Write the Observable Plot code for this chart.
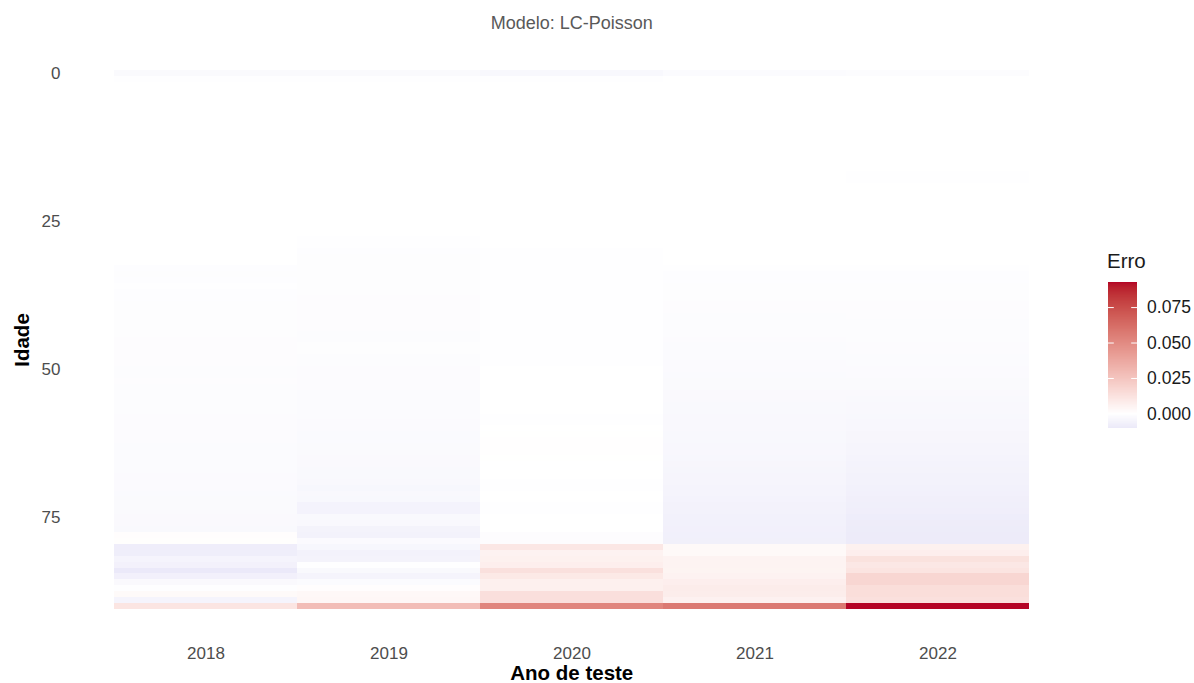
<!DOCTYPE html>
<html>
<head>
<meta charset="utf-8">
<script src="https://cdn.jsdelivr.net/npm/d3@7"></script>
<script src="https://cdn.jsdelivr.net/npm/@observablehq/plot@0.6"></script>
<style>
  html, body { margin: 0; padding: 0; background: #ffffff; }
  #wrap { position: relative; width: 1194px; height: 683px; font-family: "Liberation Sans", Arial, Helvetica, sans-serif; }
  #wrap svg { position: absolute; }
  #legend-title { position: absolute; left: 1107px; top: 251px; font-size: 20.5px; color: #1a1a1a; line-height: 1; }
</style>
</head>
<body>
<div id="wrap"><div id="legend-title">Erro</div></div>
<script>
// Anos de teste (colunas) e idades (linhas)
const years = [2018, 2019, 2020, 2021, 2022];
const ages = d3.range(0, 91);

// Erro do modelo LC-Poisson por idade (0 a 90), um vetor por ano de teste
const err2018 = [
  -0.0025, -0.0007, -0.0001, -0.0001, -0.0001, -0.0001, 0.0000, -0.0001, -0.0001, -0.0001,
  -0.0001, -0.0001, -0.0001, -0.0001, -0.0001, -0.0001, -0.0001, -0.0001, -0.0001, -0.0001,
  -0.0001, -0.0001, -0.0001, -0.0001, -0.0001, -0.0001, -0.0001, -0.0001, -0.0001, -0.0001,
  -0.0001, -0.0002, -0.0002, -0.0008, -0.0009, -0.0008, -0.0007, -0.0008, -0.0008, -0.0009,
  -0.0009, -0.0010, -0.0010, -0.0011, -0.0011, -0.0012, -0.0012, -0.0012, -0.0013, -0.0013,
  -0.0014, -0.0014, -0.0012, -0.0015, -0.0015, -0.0016, -0.0016, -0.0016, -0.0017, -0.0017,
  -0.0018, -0.0018, -0.0018, -0.0019, -0.0019, -0.0020, -0.0020, -0.0021, -0.0022, -0.0022,
  -0.0023, -0.0024, -0.0025, -0.0025, -0.0026, -0.0027, -0.0028, -0.0030, 0.0007, 0.0006,
  -0.0085, -0.0082, -0.0050, -0.0065, -0.0103, -0.0070, -0.0028, -0.0004, 0.0022, -0.0050,
  0.0110
];
const err2019 = [
  -0.0025, -0.0007, -0.0001, -0.0001, -0.0001, -0.0001, -0.0001, -0.0001, -0.0001, -0.0001,
  -0.0001, -0.0001, -0.0001, -0.0001, -0.0001, -0.0001, -0.0001, -0.0001, -0.0001, -0.0001,
  -0.0001, -0.0001, -0.0001, -0.0001, -0.0001, -0.0001, -0.0001, -0.0001, -0.0007, -0.0003,
  -0.0008, -0.0009, -0.0009, -0.0010, -0.0010, -0.0011, -0.0011, -0.0011, -0.0012, -0.0012,
  -0.0012, -0.0013, -0.0013, -0.0013, -0.0014, -0.0014, -0.0011, -0.0011, -0.0016, -0.0016,
  -0.0017, -0.0017, -0.0018, -0.0018, -0.0019, -0.0019, -0.0020, -0.0021, -0.0021, -0.0022,
  -0.0023, -0.0024, -0.0024, -0.0025, -0.0026, -0.0027, -0.0028, -0.0029, -0.0030, -0.0031,
  -0.0040, -0.0033, -0.0035, -0.0055, -0.0056, -0.0030, -0.0032, -0.0058, -0.0060, -0.0022,
  -0.0040, -0.0062, -0.0058, -0.0005, -0.0030, -0.0050, -0.0020, 0.0008, 0.0030, 0.0035,
  0.0280
];
const err2020 = [
  -0.0035, -0.0003, -0.0001, -0.0001, -0.0001, -0.0001, -0.0001, -0.0001, -0.0001, -0.0001,
  -0.0001, -0.0001, -0.0001, -0.0001, -0.0001, -0.0001, -0.0001, -0.0001, -0.0001, -0.0001,
  -0.0001, -0.0001, -0.0001, -0.0002, -0.0002, -0.0002, -0.0002, -0.0002, -0.0002, -0.0002,
  -0.0003, -0.0003, -0.0003, -0.0004, -0.0004, -0.0004, -0.0004, -0.0004, -0.0004, -0.0005,
  -0.0005, -0.0005, -0.0005, -0.0005, -0.0005, -0.0006, -0.0006, -0.0006, -0.0007, -0.0004,
  -0.0001, 0.0000, 0.0000, 0.0001, 0.0001, 0.0001, 0.0001, 0.0001, -0.0004, -0.0004,
  0.0001, 0.0002, 0.0004, 0.0004, 0.0004, 0.0002, 0.0001, 0.0000, 0.0000, -0.0003,
  -0.0003, 0.0000, 0.0000, -0.0004, -0.0006, 0.0000, 0.0000, 0.0000, -0.0012, -0.0012,
  0.0100, 0.0055, 0.0060, 0.0070, 0.0130, 0.0095, 0.0065, 0.0065, 0.0135, 0.0135,
  0.0520
];
const err2021 = [
  -0.0020, -0.0002, -0.0001, -0.0001, -0.0001, -0.0001, -0.0001, -0.0001, -0.0001, -0.0001,
  -0.0001, -0.0001, -0.0001, -0.0001, -0.0001, -0.0001, -0.0001, -0.0001, -0.0001, -0.0001,
  -0.0001, -0.0001, -0.0001, -0.0001, -0.0001, -0.0001, -0.0002, -0.0002, -0.0002, -0.0002,
  -0.0002, -0.0002, -0.0002, -0.0003, -0.0008, -0.0008, -0.0009, -0.0010, -0.0011, -0.0012,
  -0.0013, -0.0014, -0.0015, -0.0016, -0.0016, -0.0018, -0.0019, -0.0020, -0.0021, -0.0022,
  -0.0023, -0.0024, -0.0025, -0.0026, -0.0027, -0.0028, -0.0029, -0.0030, -0.0031, -0.0032,
  -0.0033, -0.0034, -0.0035, -0.0037, -0.0039, -0.0040, -0.0043, -0.0045, -0.0047, -0.0049,
  -0.0051, -0.0053, -0.0056, -0.0060, -0.0062, -0.0066, -0.0068, -0.0070, -0.0071, -0.0073,
  0.0025, 0.0025, 0.0050, 0.0050, 0.0048, 0.0055, 0.0070, 0.0080, 0.0078, 0.0058,
  0.0570
];
const err2022 = [
  -0.0015, -0.0002, -0.0001, -0.0001, -0.0001, -0.0001, -0.0001, -0.0001, -0.0001, -0.0001,
  -0.0001, -0.0001, -0.0001, -0.0001, -0.0001, -0.0001, -0.0001, -0.0007, -0.0007, -0.0001,
  -0.0001, -0.0001, -0.0001, -0.0001, -0.0001, -0.0001, -0.0001, -0.0001, -0.0001, -0.0001,
  -0.0002, -0.0002, -0.0002, -0.0003, -0.0008, -0.0008, -0.0009, -0.0010, -0.0011, -0.0012,
  -0.0012, -0.0013, -0.0014, -0.0015, -0.0016, -0.0016, -0.0017, -0.0018, -0.0019, -0.0020,
  -0.0022, -0.0023, -0.0025, -0.0026, -0.0028, -0.0030, -0.0031, -0.0033, -0.0035, -0.0037,
  -0.0039, -0.0041, -0.0043, -0.0046, -0.0049, -0.0052, -0.0055, -0.0058, -0.0061, -0.0064,
  -0.0067, -0.0070, -0.0074, -0.0078, -0.0080, -0.0088, -0.0090, -0.0092, -0.0093, -0.0094,
  0.0060, 0.0070, 0.0125, 0.0100, 0.0115, 0.0175, 0.0175, 0.0140, 0.0140, 0.0130,
  0.0927
];

const series = [err2018, err2019, err2020, err2021, err2022];
const legendTicks = [0, 0.025, 0.05, 0.075];

// Tabela longa: uma linha por (ano, idade)
const records = years.flatMap((ano, i) =>
  ages.map((idade, j) => ({ano, idade, erro: series[i][j]}))
);

const minErr = d3.min(records, d => d.erro);
const maxErr = d3.max(records, d => d.erro);

// Escala divergente centrada em zero (azul – branco – vermelho)
const colorScale = {
  type: "diverging",
  pivot: 0,
  symmetric: true,
  domain: [minErr, maxErr],
  range: ["#3B4CC0", "#ffffff", "#B40426"],
  interpolate: "lab"
};

const font = "'Liberation Sans', Arial, Helvetica, sans-serif";

const chart = Plot.plot({
  width: 1194,
  height: 683,
  marginLeft: 113.5,
  marginRight: 165,
  marginTop: 70,
  marginBottom: 74,
  style: {fontFamily: font, fontSize: "17px", color: "#4d4d4d", background: "transparent"},
  x: {type: "band", domain: years, padding: 0, label: null, tickSize: 0, tickPadding: 37, tickFormat: "d"},
  y: {type: "band", domain: ages, padding: 0, label: null, ticks: [0, 25, 50, 75], tickSize: 0, tickPadding: 53.5},
  color: colorScale,
  marks: [
    Plot.cell(records, {x: "ano", y: "idade", fill: "erro", inset: 0, shapeRendering: "crispEdges"}),
    Plot.text(["Modelo: LC-Poisson"], {frameAnchor: "top", lineAnchor: "middle", dy: -47, fontSize: 18, fill: "#595959"}),
    Plot.text(["Idade"], {frameAnchor: "left", textAnchor: "middle", lineAnchor: "middle", dx: -91.5, rotate: -90, fontSize: 20.5, fontWeight: "bold", fill: "#000000"}),
    Plot.text(["Ano de teste"], {frameAnchor: "bottom", lineAnchor: "middle", dy: 64, fontSize: 20.5, fontWeight: "bold", fill: "#000000"})
  ]
});
chart.style.left = "0px";
chart.style.top = "0px";

// Barra de cores da legenda
const steps = d3.range(0, 240).map(i => minErr + (maxErr - minErr) * i / 240);
const stepSize = (maxErr - minErr) / 240;
const legend = Plot.plot({
  width: 94,
  height: 200,
  margin: 0,
  style: {fontFamily: font, fontSize: "17.5px", background: "transparent"},
  x: {domain: [0, 1], range: [8, 37], axis: null},
  y: {domain: [minErr, maxErr], range: [188, 42], axis: null},
  color: colorScale,
  marks: [
    Plot.rect(steps, {x1: 0, x2: 1, y1: d => d, y2: d => Math.min(d + stepSize * 1.05, maxErr), fill: d => d + stepSize / 2, shapeRendering: "crispEdges"}),
    Plot.ruleY(legendTicks, {x1: 0, x2: 0.2, stroke: "white", strokeWidth: 1}),
    Plot.ruleY(legendTicks, {x1: 0.8, x2: 1, stroke: "white", strokeWidth: 1}),
    Plot.text(legendTicks, {x: 1.33, y: d => d, text: d3.format(".3f"), textAnchor: "start", fill: "#1a1a1a"})
  ]
});
legend.style.left = "1100px";
legend.style.top = "240px";

const wrap = document.getElementById("wrap");
wrap.appendChild(chart);
wrap.appendChild(legend);
</script>
</body>
</html>
